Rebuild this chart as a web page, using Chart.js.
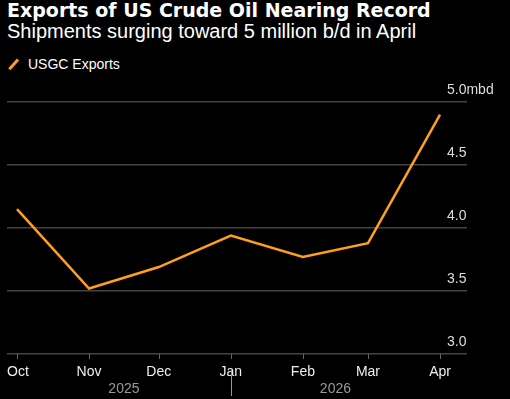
<!DOCTYPE html>
<html>
<head>
<meta charset="utf-8">
<script src="https://cdn.jsdelivr.net/npm/chart.js@4"></script>
<style>
  html, body { margin: 0; padding: 0; background: #000; }
  #wrap { position: relative; width: 510px; height: 399px; overflow: hidden; }
  #title { position: absolute; left: 7px; top: -1px; color: #fff; font: bold 19px "DejaVu Sans", sans-serif; }
  #subtitle { position: absolute; left: 7px; top: 20px; color: #fff; font: 20px "Liberation Sans", sans-serif; }
  #legend { position: absolute; left: 8px; top: 56px; color: #fff; font: 14px "Liberation Sans", sans-serif; display: flex; align-items: center; }
  #legend i { display: inline-block; width: 13px; height: 2.5px; background: #ff9f1c; transform: rotate(-48deg); margin: 0 8px 0 -1px; }
  canvas { position: absolute; left: 0; top: 0; }
</style>
</head>
<body>
<div id="wrap">
  <div id="title">Exports of US Crude Oil Nearing Record</div>
  <div id="subtitle">Shipments surging toward 5 million b/d in April</div>
  <div id="legend"><i></i>USGC Exports</div>
  <canvas id="chart" width="510" height="399"></canvas>
</div>
<script>
// months shown on the x axis, placed by day offset from Oct 1
const MONTHS = ["Oct", "Nov", "Dec", "Jan", "Feb", "Mar", "Apr"];
const DAY_OFFSETS = [0, 31, 61, 92, 123, 151, 182];
const EXPORTS = [4.15, 3.52, 3.69, 3.94, 3.77, 3.88, 4.90];
const Y_TICKS = [3.0, 3.5, 4.0, 4.5, 5.0];
const YEARS = [
  { label: "2025", from: 0, to: 92 },
  { label: "2026", from: 92, to: 182 }
];

const LINE_COLOR = "#ff9f1c";
const GRID_COLOR = "#444";
const FONT = "'Liberation Sans', sans-serif";

/* ── custom axis labels ─────────────────────────────*/
const axisLabels = {
  id: "axisLabels",
  afterDraw(chart) {
    const { ctx, chartArea, scales } = chart;
    const x = scales.x, y = scales.y;
    ctx.save();

    // y labels above gridlines, right side
    ctx.fillStyle = "#ddd";
    ctx.font = "14px " + FONT;
    ctx.textAlign = "left";
    ctx.textBaseline = "alphabetic";
    Y_TICKS.forEach(v => {
      const py = y.getPixelForValue(v);
      const txt = v.toFixed(1) + (v === 5.0 ? "mbd" : "");
      ctx.fillText(txt, chartArea.right - 20, py - 8);
    });

    // x axis ticks
    const base = y.getPixelForValue(3.0);
    ctx.strokeStyle = "#666";
    ctx.lineWidth = 1;
    DAY_OFFSETS.forEach(d => {
      const px = Math.round(x.getPixelForValue(d)) + 0.5;
      ctx.beginPath();
      ctx.moveTo(px, base);
      ctx.lineTo(px, base + 5);
      ctx.stroke();
    });

    // month labels
    ctx.fillStyle = "#eee";
    ctx.font = "14px " + FONT;
    ctx.textBaseline = "middle";
    MONTHS.forEach((m, i) => {
      const px = x.getPixelForValue(DAY_OFFSETS[i]);
      const w = ctx.measureText(m).width;
      let lx = px - w / 2;
      if (lx < 7) lx = 7;
      ctx.textAlign = "left";
      ctx.fillText(m, lx, base + 18);
    });

    // year labels + separator
    ctx.fillStyle = "#999";
    ctx.font = "14px " + FONT;
    ctx.textAlign = "center";
    YEARS.forEach(yr => {
      const mid = (x.getPixelForValue(yr.from) + x.getPixelForValue(yr.to)) / 2;
      ctx.fillText(yr.label, mid, base + 35);
    });
    const sep = Math.round(x.getPixelForValue(YEARS[1].from)) + 0.5;
    ctx.strokeStyle = "#999";
    ctx.beginPath();
    ctx.moveTo(sep, base + 15);
    ctx.lineTo(sep, base + 42);
    ctx.stroke();

    ctx.restore();
  }
};

new Chart(document.getElementById("chart"), {
  type: "line",
  data: {
    datasets: [{
      label: "USGC Exports",
      data: DAY_OFFSETS.map((d, i) => ({ x: d, y: EXPORTS[i] })),
      borderColor: LINE_COLOR,
      borderWidth: 2.5,
      pointRadius: 0,
      tension: 0,
      fill: false
    }]
  },
  options: {
    responsive: false,
    animation: false,
    layout: { padding: { left: 7, right: 43, top: 102, bottom: 37 } },
    scales: {
      x: {
        type: "linear",
        min: -4.3,
        max: 193.6,
        grid: { display: false },
        border: { display: false },
        ticks: { display: false }
      },
      y: {
        position: "right",
        min: 3.0,
        max: 5.0,
        afterBuildTicks: s => { s.ticks = Y_TICKS.map(v => ({ value: v })); },
        grid: { color: GRID_COLOR, lineWidth: 1.5, drawTicks: false },
        border: { display: false },
        ticks: { display: false }
      }
    },
    plugins: {
      legend: { display: false },
      tooltip: { enabled: false }
    }
  },
  plugins: [axisLabels]
});
</script>
</body>
</html>
